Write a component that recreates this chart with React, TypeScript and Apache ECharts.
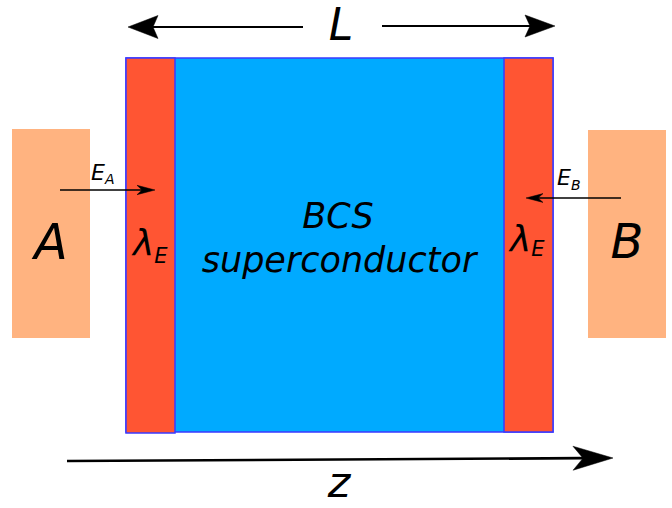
import React, { useEffect, useRef } from "react";
import * as echarts from "echarts";

// Labels of the diagram
const regionLabels = ["A", "B"];
const layerLabel = ["λ", "E"];
const fieldLabels = [["E", "A"], ["E", "B"]];
const bulkLabel = ["BCS", "superconductor"];
const axisLabels = ["L", "z"];

const FONT = '"DejaVu Sans", "Noto Sans", sans-serif';
const INK = "#000000";

type Pt = [number, number];

function arrow(from: Pt, to: Pt, width: number, len: number, half: number, notch: number, color = INK) {
  const dx = to[0] - from[0];
  const dy = to[1] - from[1];
  const d = Math.hypot(dx, dy);
  const ux = dx / d;
  const uy = dy / d;
  const nx = -uy;
  const ny = ux;
  const bx = to[0] - ux * len;
  const by = to[1] - uy * len;
  const c1: Pt = [bx + nx * half, by + ny * half];
  const c2: Pt = [bx - nx * half, by - ny * half];
  const nt: Pt = [to[0] - ux * (len - notch), to[1] - uy * (len - notch)];
  return [
    {
      type: "line",
      shape: { x1: from[0], y1: from[1], x2: nt[0], y2: nt[1] },
      style: { stroke: color, lineWidth: width },
      silent: true,
    },
    {
      type: "polygon",
      shape: { points: [to, c1, nt, c2] },
      style: { fill: color, stroke: color, lineWidth: 0.5 },
      silent: true,
    },
  ];
}

function txt(text: string, x: number, y: number, size: number, align = "center") {
  return {
    type: "text",
    x,
    y,
    silent: true,
    style: {
      text,
      fill: INK,
      fontSize: size,
      fontFamily: FONT,
      fontStyle: "italic",
      align,
      verticalAlign: "middle",
    },
  };
}

// main symbol with a subscript, as one rich text
function sub(main: string, low: string, x: number, y: number, size: number, subSize: number, drop: number) {
  return {
    type: "text",
    x,
    y,
    silent: true,
    style: {
      text: `{m|${main}}{s|${low}}`,
      fill: INK,
      fontFamily: FONT,
      fontStyle: "italic",
      align: "left",
      verticalAlign: "middle",
      rich: {
        m: { fontSize: size, lineHeight: size, fontFamily: FONT, fontStyle: "italic", fill: INK },
        s: {
          fontSize: subSize,
          lineHeight: subSize,
          fontFamily: FONT,
          fontStyle: "italic",
          fill: INK,
          padding: [drop * 2, 0, 0, 0],
        },
      },
    },
  };
}

export default function App() {
  const ref = useRef<HTMLDivElement>(null);
  useEffect(() => {
    document.body.style.margin = "0";
    if (!ref.current) return;
    const chart = echarts.init(ref.current, undefined, { renderer: "svg" });
    const border = "#3a3aff";
    const elements: any[] = [
      // reservoirs A and B
      { type: "rect", shape: { x: 12, y: 129, width: 78, height: 209 }, style: { fill: "#ffb380" } },
      { type: "rect", shape: { x: 588, y: 130, width: 78, height: 208 }, style: { fill: "#ffb380" } },
      // superconductor
      { type: "rect", shape: { x: 126, y: 58, width: 427, height: 374 }, style: { fill: "#00aaff", stroke: border, lineWidth: 1.5 } },
      { type: "rect", shape: { x: 126, y: 58, width: 49, height: 375 }, style: { fill: "#ff5533", stroke: border, lineWidth: 1.5 } },
      { type: "rect", shape: { x: 504, y: 58, width: 49, height: 374 }, style: { fill: "#ff5533", stroke: border, lineWidth: 1.5 } },
      // L arrows
      ...arrow([303, 27], [128, 27], 2, 30, 11.5, 5),
      ...arrow([382, 26], [555, 26], 2, 30, 11, 5),
      // z arrow
      ...arrow([67, 461], [613, 458], 2.6, 40, 12, 10),
      // field arrows
      ...arrow([60, 190], [155, 190], 1.3, 18, 4.7, 5),
      ...arrow([621, 198], [526, 198], 1.3, 17, 4.4, 5),
      // texts
      txt(axisLabels[0], 341, 24, 44),
      txt(axisLabels[1], 339, 482, 43),
      txt(regionLabels[0], 51, 242, 49),
      txt(regionLabels[1], 627, 241, 48),
      txt(bulkLabel[0], 338, 216, 35),
      txt(bulkLabel[1], 339, 260, 35),
      sub(layerLabel[0], layerLabel[1], 133, 242, 36, 21, 14),
      sub(layerLabel[0], layerLabel[1], 510, 238, 36, 21, 11),
      sub(fieldLabels[0][0], fieldLabels[0][1], 91, 172, 22, 14, 6.5),
      sub(fieldLabels[1][0], fieldLabels[1][1], 557, 177, 22, 14, 8),
    ];
    chart.setOption({
      animation: false,
      backgroundColor: "#ffffff",
      graphic: { elements },
    });
    return () => chart.dispose();
  }, []);
  return <div ref={ref} style={{ width: 672, height: 508 }} />;
}
